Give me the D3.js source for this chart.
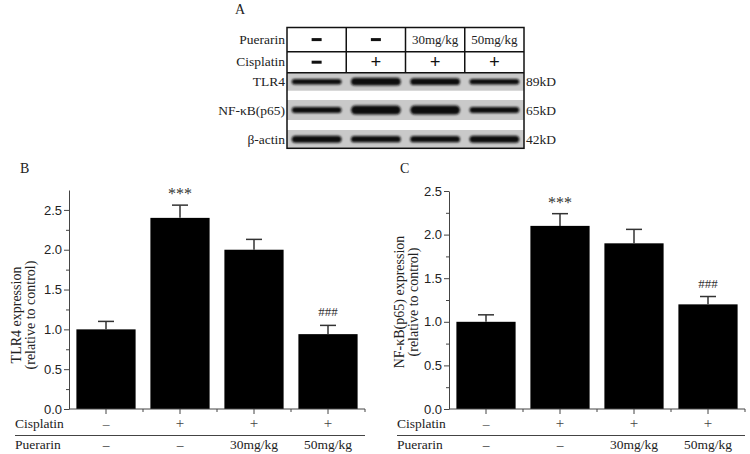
<!DOCTYPE html>
<html lang="en">
<head>
<meta charset="UTF-8">
<script src="https://d3js.org/d3.v7.min.js"></script>
<style>
  body { margin: 0; background: #fff; }
  svg { display: block; font-family: "Liberation Serif", "Times New Roman", serif; }
</style>
</head>
<body>
<svg id="fig" width="750" height="454"></svg>
<script>
// ---- data ----
const groups = ['Control', 'Cisplatin', 'Cis+Pue30', 'Cis+Pue50'];
const cisplatinRow = ['\u2013', '+', '+', '+'];
const puerarinRow = ['\u2013', '\u2013', '30mg/kg', '50mg/kg'];

// panel A (western blot)
const blotProteins = ['TLR4', 'NF-\u03baB(p65)', '\u03b2-actin'];
const blotWeights = ['89kD', '65kD', '42kD'];
const bandTLR4 = [0.45, 0.8, 0.65, 0.45];
const bandNFkB = [0.55, 1.0, 1.0, 0.55];
const bandActin = [0.7, 0.6, 0.6, 0.7];

// panel B
const tlr4Mean = [1.0, 2.4, 2.0, 0.94];
const tlr4Err = [0.10, 0.16, 0.13, 0.11];
// panel C
const nfkbMean = [1.0, 2.1, 1.9, 1.2];
const nfkbErr = [0.08, 0.14, 0.16, 0.09];

const signif = ['', '***', '', '###'];

const svg = d3.select('#fig');
const ink = '#222';

// ---------- panel A ----------
svg.append('text').attr('x', 235).attr('y', 14).attr('font-size', 14).attr('fill', ink).text('A');

const blotL = 287, blotR = 524, headTop = 27.5, headMid = 51.7, headBot = 72.7, blotBot = 148.3;
const lane = d3.scaleBand().domain(d3.range(4)).range([blotL, blotR]);
const stripY = [[72.7, 90.7], [100, 120], [130, 148.3]];
const bandH = d3.scaleLinear().domain([0, 1]).range([2.5, 9]);

const defs = svg.append('defs');
defs.append('filter').attr('id', 'blur').attr('x', '-10%').attr('y', '-50%').attr('width', '120%').attr('height', '200%')
  .append('feGaussianBlur').attr('stdDeviation', 0.9);

const blot = svg.append('g');
stripY.forEach((s, i) => {
  blot.append('rect').attr('x', blotL).attr('y', s[0]).attr('width', blotR - blotL).attr('height', s[1] - s[0])
    .attr('fill', '#c9c9c9');
});
[bandTLR4, bandNFkB, bandActin].forEach((vals, i) => {
  const cy = (stripY[i][0] + stripY[i][1]) / 2;
  blot.selectAll(null).data(vals).enter().append('rect')
    .attr('x', (d, j) => lane(j) + lane.bandwidth() * 0.08)
    .attr('width', lane.bandwidth() * 0.84)
    .attr('y', d => cy - bandH(d) / 2)
    .attr('height', d => bandH(d))
    .attr('rx', d => bandH(d) / 2)
    .attr('fill', '#111')
    .attr('filter', 'url(#blur)');
});

// table frame
const frame = svg.append('g').attr('stroke', '#111').attr('stroke-width', 1.5).attr('fill', 'none');
frame.append('rect').attr('x', blotL).attr('y', headTop).attr('width', blotR - blotL).attr('height', blotBot - headTop);
frame.append('line').attr('x1', blotL).attr('x2', blotR).attr('y1', headMid).attr('y2', headMid);
frame.append('line').attr('x1', blotL).attr('x2', blotR).attr('y1', headBot).attr('y2', headBot);
d3.range(1, 4).forEach(j => {
  frame.append('line').attr('x1', lane(j)).attr('x2', lane(j)).attr('y1', headTop).attr('y2', headBot);
});

// header contents
function headCell(label, j, cy) {
  const cx = lane(j) + lane.bandwidth() / 2;
  if (label === '\u2013') {
    svg.append('rect').attr('x', cx - 5).attr('y', cy - 1.5).attr('width', 10).attr('height', 3).attr('fill', '#111');
  } else if (label === '+') {
    svg.append('text').attr('x', cx).attr('y', cy + 6).attr('text-anchor', 'middle')
      .attr('font-size', 19).attr('font-weight', 'bold').attr('fill', '#111').text('+');
  } else {
    svg.append('text').attr('x', cx).attr('y', cy + 4.5).attr('text-anchor', 'middle')
      .attr('font-size', 13).attr('fill', ink).text(label);
  }
}
puerarinRow.forEach((d, j) => headCell(d, j, (headTop + headMid) / 2));
cisplatinRow.forEach((d, j) => headCell(d, j, (headMid + headBot) / 2));

const leftLab = [['Puerarin', 44], ['Cisplatin', 65.5]].concat(
  blotProteins.map((p, i) => [p, (stripY[i][0] + stripY[i][1]) / 2 + 4.5]));
leftLab.forEach(d => {
  svg.append('text').attr('x', 285).attr('y', d[1]).attr('text-anchor', 'end')
    .attr('font-size', 13.5).attr('fill', ink).text(d[0]);
});
blotWeights.forEach((w, i) => {
  svg.append('text').attr('x', 526).attr('y', (stripY[i][0] + stripY[i][1]) / 2 + 4.5)
    .attr('font-size', 13.5).attr('fill', ink).text(w);
});

// ---------- panels B and C ----------
function barPanel(o) {
  const g = svg.append('g');
  const y = d3.scaleLinear().domain([0, o.yMax]).range([409, o.yTop]);
  const x = d3.scaleBand().domain(groups).range([o.x0, o.x0 + 296]).paddingInner(0.2).paddingOuter(0.1);

  g.append('text').attr('x', o.labX).attr('y', 172.5).attr('font-size', 14).attr('fill', ink).text(o.letter);

  // y axis
  const ya = g.append('g').attr('transform', `translate(${o.x0},0)`)
    .call(d3.axisLeft(y).tickValues(d3.range(0, o.yMax + 0.01, 0.5)).tickSize(5).tickSizeOuter(0)
      .tickPadding(2).tickFormat(d3.format('.1f')));
  const ym = g.append('g').attr('transform', `translate(${o.x0},0)`)
    .call(d3.axisLeft(y).tickValues(d3.range(0.25, 2.5, 0.5)).tickSize(3).tickFormat(''));
  ym.select('.domain').remove();
  [ya, ym].forEach(a => {
    a.selectAll('path,line').attr('stroke', '#444').attr('stroke-width', 1);
    a.selectAll('text').attr('font-size', 13).attr('fill', ink).attr('font-family', null);
  });

  // bars
  g.selectAll('.bar').data(o.mean).enter().append('rect')
    .attr('x', (d, i) => x(groups[i])).attr('width', x.bandwidth())
    .attr('y', d => y(d)).attr('height', d => 409 - y(d)).attr('fill', '#000');

  // error bars
  const cx = i => x(groups[i]) + x.bandwidth() / 2;
  o.mean.forEach((m, i) => {
    const top = y(m + o.err[i]);
    g.append('line').attr('x1', cx(i)).attr('x2', cx(i)).attr('y1', y(m)).attr('y2', top)
      .attr('stroke', '#333').attr('stroke-width', 1.5);
    g.append('line').attr('x1', cx(i) - 8).attr('x2', cx(i) + 8).attr('y1', top).attr('y2', top)
      .attr('stroke', '#333').attr('stroke-width', 1.5);
    if (signif[i] === '***') {
      g.append('text').attr('x', cx(i)).attr('y', top - 6).attr('text-anchor', 'middle')
        .attr('font-size', 16).attr('fill', '#333').text(signif[i]);
    } else if (signif[i]) {
      g.append('text').attr('x', cx(i)).attr('y', top - 9).attr('text-anchor', 'middle')
        .attr('font-size', 13).attr('fill', '#333').text(signif[i]);
    }
  });

  // x axis
  g.append('line').attr('x1', o.x0).attr('x2', o.x0 + 296).attr('y1', 409).attr('y2', 409)
    .attr('stroke', '#444').attr('stroke-width', 1);
  groups.forEach((d, i) => {
    g.append('line').attr('x1', cx(i)).attr('x2', cx(i)).attr('y1', 409).attr('y2', 414)
      .attr('stroke', '#444');
    const b = o.x0 + x.step() * (i + 1);
    g.append('line').attr('x1', b).attr('x2', b).attr('y1', 409).attr('y2', 412)
      .attr('stroke', '#444');
  });

  // condition rows
  g.append('text').attr('x', o.rowX).attr('y', 428).attr('font-size', 13.5).attr('fill', ink).text('Cisplatin');
  g.append('text').attr('x', o.rowX).attr('y', 448.5).attr('font-size', 13.5).attr('fill', ink).text('Puerarin');
  g.append('line').attr('x1', o.rowX).attr('x2', o.x0 + 296).attr('y1', 435.5).attr('y2', 435.5)
    .attr('stroke', '#444').attr('stroke-width', 1.2);
  cisplatinRow.forEach((d, i) => {
    g.append('text').attr('x', cx(i)).attr('y', 428).attr('text-anchor', 'middle')
      .attr('font-size', d === '+' ? 15 : 13.5).attr('fill', '#444').text(d);
  });
  puerarinRow.forEach((d, i) => {
    g.append('text').attr('x', cx(i)).attr('y', 448.5).attr('text-anchor', 'middle')
      .attr('font-size', 13.5).attr('fill', ink).text(d);
  });

  // y label
  o.ylab.forEach((t, k) => {
    g.append('text').attr('transform', `translate(${o.ylabX[k]},${o.ylabY}) rotate(-90)`)
      .attr('text-anchor', 'middle').attr('font-size', 14).attr('fill', ink).text(t);
  });
}

barPanel({
  letter: 'B', labX: 20, x0: 69, yMax: 2.75, yTop: 190, rowX: 15,
  mean: tlr4Mean, err: tlr4Err,
  ylab: ['TLR4 expression', '(relative to control)'], ylabX: [21, 34.5], ylabY: 315
});
barPanel({
  letter: 'C', labX: 400, x0: 449, yMax: 2.5, yTop: 191, rowX: 397,
  mean: nfkbMean, err: nfkbErr,
  ylab: ['NF-\u03baB(p65) expression', '(relative to control)'], ylabX: [404, 418], ylabY: 302
});
</script>
</body>
</html>
